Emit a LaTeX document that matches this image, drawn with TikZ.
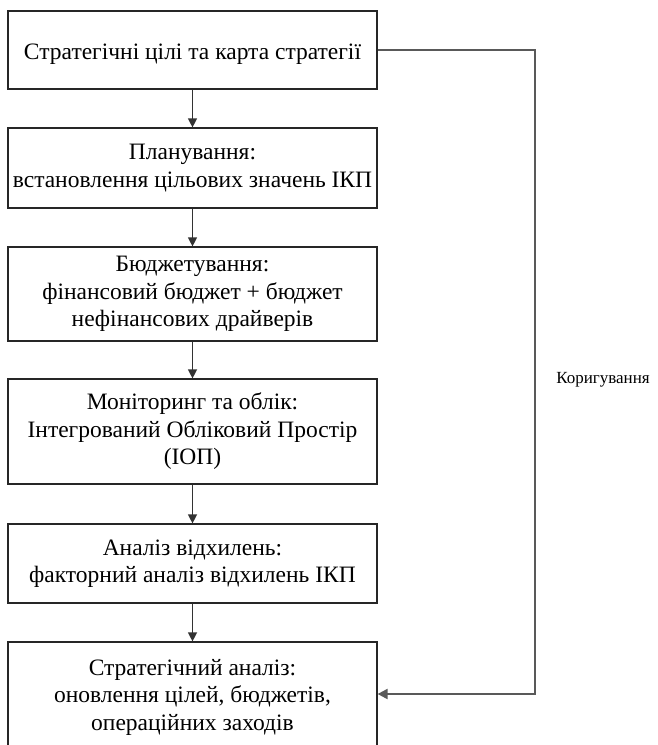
\documentclass[tikz,border=0pt]{standalone}
\usepackage{fontspec}
\setmainfont{Liberation Serif}
\usetikzlibrary{arrows.meta}
\begin{document}
\begin{tikzpicture}[x=1pt,y=-1pt,
  box/.style={draw=black!85, line width=1.2pt, minimum width=369pt, align=center,
    font=\fontsize{23.5}{27.5}\selectfont, inner sep=0pt,
    execute at begin node={\rule{0pt}{23pt}}},
  arr/.style={draw=black!80, line width=1.3pt, -{Triangle[length=9pt,width=9pt]}},
  fb/.style={draw=black!65, line width=2pt, -{Triangle[length=10pt,width=10pt]}},
  lbl/.style={font=\fontsize{17}{19}\selectfont, inner sep=0pt}]
\useasboundingbox (0,0) rectangle (658,745);
\clip (0,0) rectangle (658,745);
\node[box, minimum height=78pt] (b1) at (192.5,50) {Стратегічні цілі та карта стратегії};
\node[box, minimum height=80pt] (b2) at (192.5,168) {Планування:\\встановлення цільових значень ІКП};
\node[box, minimum height=94pt] (b3) at (192.5,294) {Бюджетування:\\фінансовий бюджет + бюджет\\нефінансових драйверів};
\node[box, minimum height=105pt] (b4) at (192.5,431.5) {Моніторинг та облік:\\Інтегрований Обліковий Простір\\(ІОП)};
\node[box, minimum height=79pt] (b5) at (192.5,563.5) {Аналіз відхилень:\\факторний аналіз відхилень ІКП};
\node[box, minimum height=110pt] (b6) at (192.5,697) {Стратегічний аналіз:\\оновлення цілей, бюджетів,\\операційних заходів};
\draw[arr] (b1) -- (b2);
\draw[arr] (b2) -- (b3);
\draw[arr] (b3) -- (b4);
\draw[arr] (b4) -- (b5);
\draw[arr] (b5) -- (b6);
\coordinate (c1) at (535,50);
\coordinate (c2) at (535,694);
\draw[fb] (b1.east) -- (c1) -- (c2) -- (b6.east |- c2);
\node[lbl] (k) at (603,380) {Коригування};
\end{tikzpicture}
\end{document}
